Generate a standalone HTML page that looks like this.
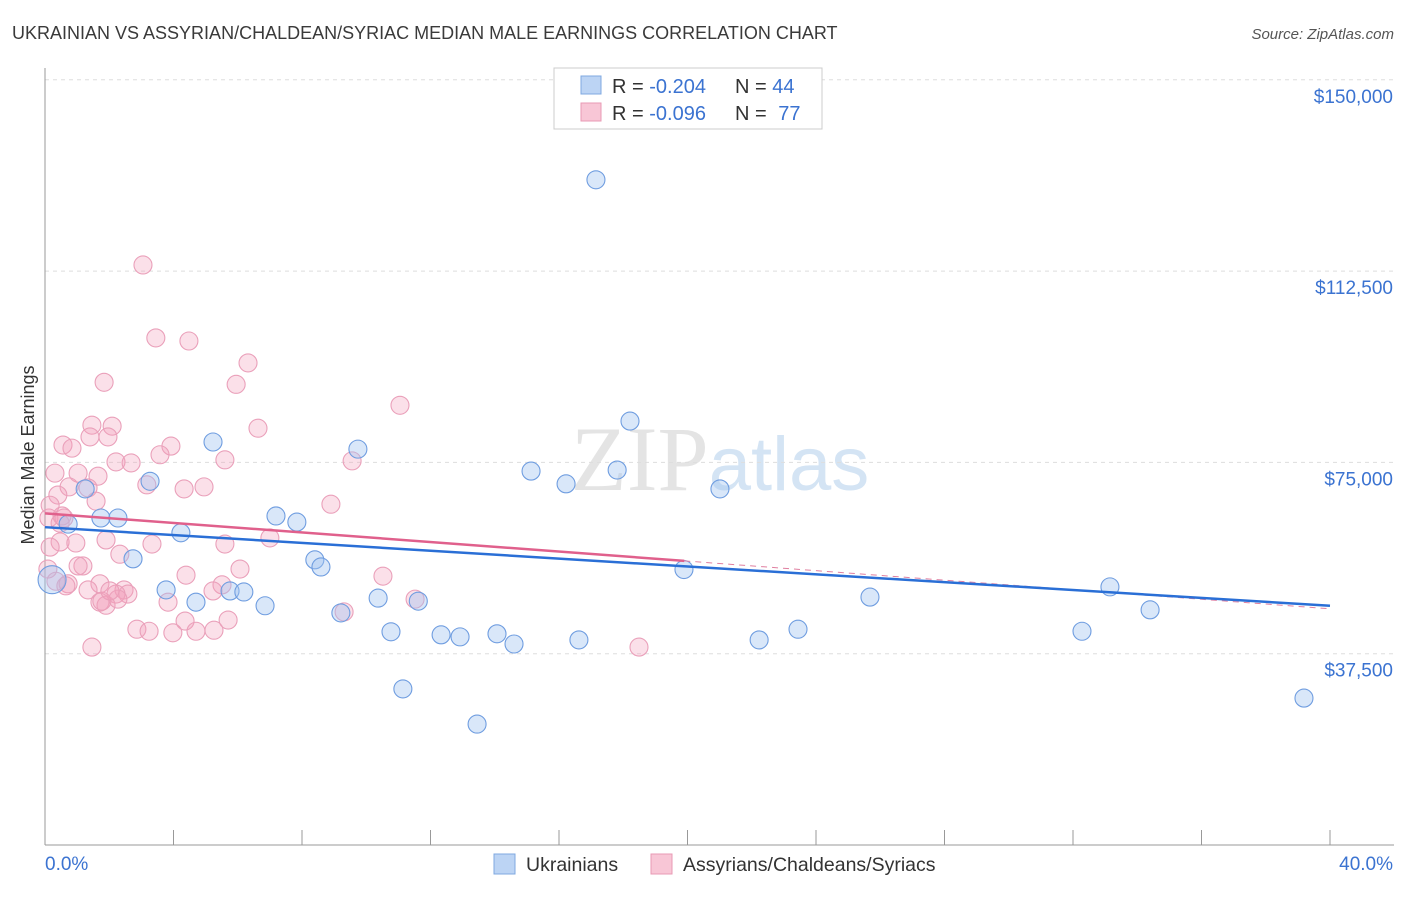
<!DOCTYPE html>
<html><head><meta charset="utf-8"><style>
body{margin:0;background:#fff;font-family:"Liberation Sans",sans-serif}
</style></head><body>
<svg id="c" width="1406" height="892" xmlns="http://www.w3.org/2000/svg" style="font-family:'Liberation Sans',sans-serif">
<text x="12" y="39" font-size="18" fill="#3a3a3a">UKRAINIAN VS ASSYRIAN/CHALDEAN/SYRIAC MEDIAN MALE EARNINGS CORRELATION CHART</text>
<text x="1394" y="39" font-size="15" fill="#555" text-anchor="end" font-style="italic">Source: ZipAtlas.com</text>
<text x="720" y="490" font-size="92" fill="#e4e4e4" text-anchor="middle" font-family="Liberation Serif">ZIP<tspan fill="#d4e4f4" font-family="Liberation Sans" font-size="76">atlas</tspan></text>
<text transform="translate(34,455) rotate(-90)" font-size="18" fill="#333" text-anchor="middle">Median Male Earnings</text>
<g id="grid"></g><g id="pts"></g><g id="lines"></g>
<g>
<rect x="554" y="68" width="268" height="61" fill="#fff" stroke="#ccc"/>
<rect x="581" y="76" width="20" height="18" fill="#bcd4f4" stroke="#7fa8e0"/>
<rect x="581" y="103" width="20" height="18" fill="#f8c6d6" stroke="#e89ab4"/>
<text x="612" y="93" font-size="20" fill="#333">R = <tspan fill="#3b73d1">-0.204</tspan></text>
<text x="735" y="93" font-size="20" fill="#333">N = <tspan fill="#3b73d1">44</tspan></text>
<text x="612" y="120" font-size="20" fill="#333">R = <tspan fill="#3b73d1">-0.096</tspan></text>
<text x="735" y="120" font-size="20" fill="#333">N = <tspan fill="#3b73d1" dx="6">77</tspan></text>
</g>
<g>
<rect x="494" y="854" width="21" height="20" fill="#bcd4f4" stroke="#7fa8e0"/>
<text x="526" y="871" font-size="19.5" fill="#333">Ukrainians</text>
<rect x="651" y="854" width="21" height="20" fill="#f8c6d6" stroke="#e89ab4"/>
<text x="683" y="871" font-size="19.5" fill="#333">Assyrians/Chaldeans/Syriacs</text>
</g>
<text x="45" y="870" font-size="19" fill="#3b73d1">0.0%</text>
<text x="1393" y="870" font-size="19" fill="#3b73d1" text-anchor="end">40.0%</text>
</svg>
<script>
const yTicks=[150000,112500,75000,37500];
const yTickLabels=["$150,000","$112,500","$75,000","$37,500"];
const blueX=[17.15,18.21,5.23,9.74,15.13,17.81,16.22,21.01,3.27,1.25,1.74,2.27,0.72,7.19,7.84,4.23,8.40,8.59,2.74,19.89,3.77,5.76,6.19,4.70,6.85,10.37,11.62,25.68,33.15,34.40,12.33,14.07,14.60,16.62,9.21,10.77,12.92,22.23,23.44,32.28,11.14,13.45,39.19,0.22];
const blueY=[130.4,83.1,79.0,77.6,73.3,73.5,70.8,69.8,71.3,69.8,64.1,64.1,62.9,64.5,63.3,61.2,55.9,54.5,56.1,54.0,50.0,49.8,49.6,47.6,46.9,48.4,47.8,48.6,50.6,46.1,41.2,41.4,39.4,40.2,45.5,41.8,40.8,40.2,42.3,41.9,30.6,23.7,28.8,52.0];
const pinkX=[3.05,3.45,4.48,6.32,1.84,5.95,11.05,1.46,2.09,6.63,0.56,0.84,1.40,1.96,3.92,3.58,5.60,9.56,2.21,2.68,0.31,1.03,1.65,3.17,0.75,1.34,0.40,4.33,4.95,1.59,8.90,0.53,0.12,0.47,7.00,1.90,0.47,0.96,3.33,5.60,0.16,2.33,1.18,1.03,4.39,0.72,5.51,1.71,0.09,1.34,5.23,2.46,2.58,2.21,3.83,1.71,1.90,11.52,9.31,5.70,4.36,2.86,3.24,3.98,4.70,5.26,1.46,18.49,10.52,6.07,0.65,0.34,1.77,2.27,2.02,0.59,0.16];
const pinkY=[113.7,99.4,98.8,94.5,90.7,90.3,86.2,82.3,82.1,81.7,78.4,77.8,80.0,80.0,78.2,76.5,75.5,75.3,75.1,74.9,72.9,72.9,72.3,70.6,70.2,70.0,68.6,69.8,70.2,67.4,66.8,64.5,64.1,63.1,60.2,59.8,59.4,59.2,59.0,59.0,58.4,57.0,54.7,54.7,52.9,51.2,51.0,51.2,54.1,50.0,49.8,50.0,49.2,49.2,47.6,47.6,47.0,48.2,45.7,44.1,43.9,42.3,41.9,41.6,41.9,42.1,38.8,38.8,52.7,54.1,50.8,51.7,47.8,48.2,49.8,64.1,66.6];
const blueFit=[0,62300,40,46900];
const pinkFit=[0,65000,40,46300];
const pinkSolidEnd=19.9;
const X=v=>45+v/40*1285, Y=v=>845-v/37500*191.3;
const NS="http://www.w3.org/2000/svg";
function mk(t,a,p){const e=document.createElementNS(NS,t);for(const k in a)e.setAttribute(k,a[k]);p.appendChild(e);return e;}
const grid=document.getElementById('grid');
yTicks.forEach((v,i)=>{
 const l=mk('line',{x1:45,x2:1394,y1:Y(v),y2:Y(v),stroke:'#ddd','stroke-dasharray':'4,4'},grid);
 
 
 const t=mk('text',{x:1393,y:Y(v)+23,'font-size':19,fill:'#3b73d1','text-anchor':'end'},grid);
 t.textContent=yTickLabels[i];
 
 
});
mk('line',{x1:45,x2:45,y1:68,y2:845,stroke:'#999'},grid);
mk('line',{x1:45,x2:1394,y1:845,y2:845,stroke:'#999'},grid);
for(let k=0;k<=10;k++){const tk=mk('line',{x1:X(k*4),x2:X(k*4),y1:830,y2:845,stroke:'#999'},grid);
 
 }
const pts=document.getElementById('pts');
pinkX.forEach((x,i)=>{const c=mk('circle',{cx:X(x),cy:Y(pinkY[i]*1000),r:9,fill:'rgba(244,160,188,0.33)',stroke:'#eaa0ba','stroke-width':1.1},pts);
 
 });
blueX.forEach((x,i)=>{const big=i===blueX.length-1;const c=mk('circle',{cx:X(x),cy:Y(blueY[i]*1000),r:big?14:9,fill:'rgba(160,196,240,0.4)',stroke:'#6f9de0','stroke-width':1.1},pts);
 
 });
const lines=document.getElementById('lines');
const py=x=>pinkFit[1]+(pinkFit[3]-pinkFit[1])*(x-pinkFit[0])/(pinkFit[2]-pinkFit[0]);
let l=mk('line',{x1:X(pinkSolidEnd),y1:Y(py(pinkSolidEnd)),x2:X(40),y2:Y(py(40)),stroke:'#e07fa0','stroke-width':1,'stroke-dasharray':'6,5'},lines);


l=mk('line',{x1:X(0),y1:Y(py(0)),x2:X(pinkSolidEnd),y2:Y(py(pinkSolidEnd)),stroke:'#e0608c','stroke-width':2.5},lines);


l=mk('line',{x1:X(blueFit[0]),y1:Y(blueFit[1]),x2:X(blueFit[2]),y2:Y(blueFit[3]),stroke:'#2a6fd6','stroke-width':2.5},lines);


</script>
</body></html>
